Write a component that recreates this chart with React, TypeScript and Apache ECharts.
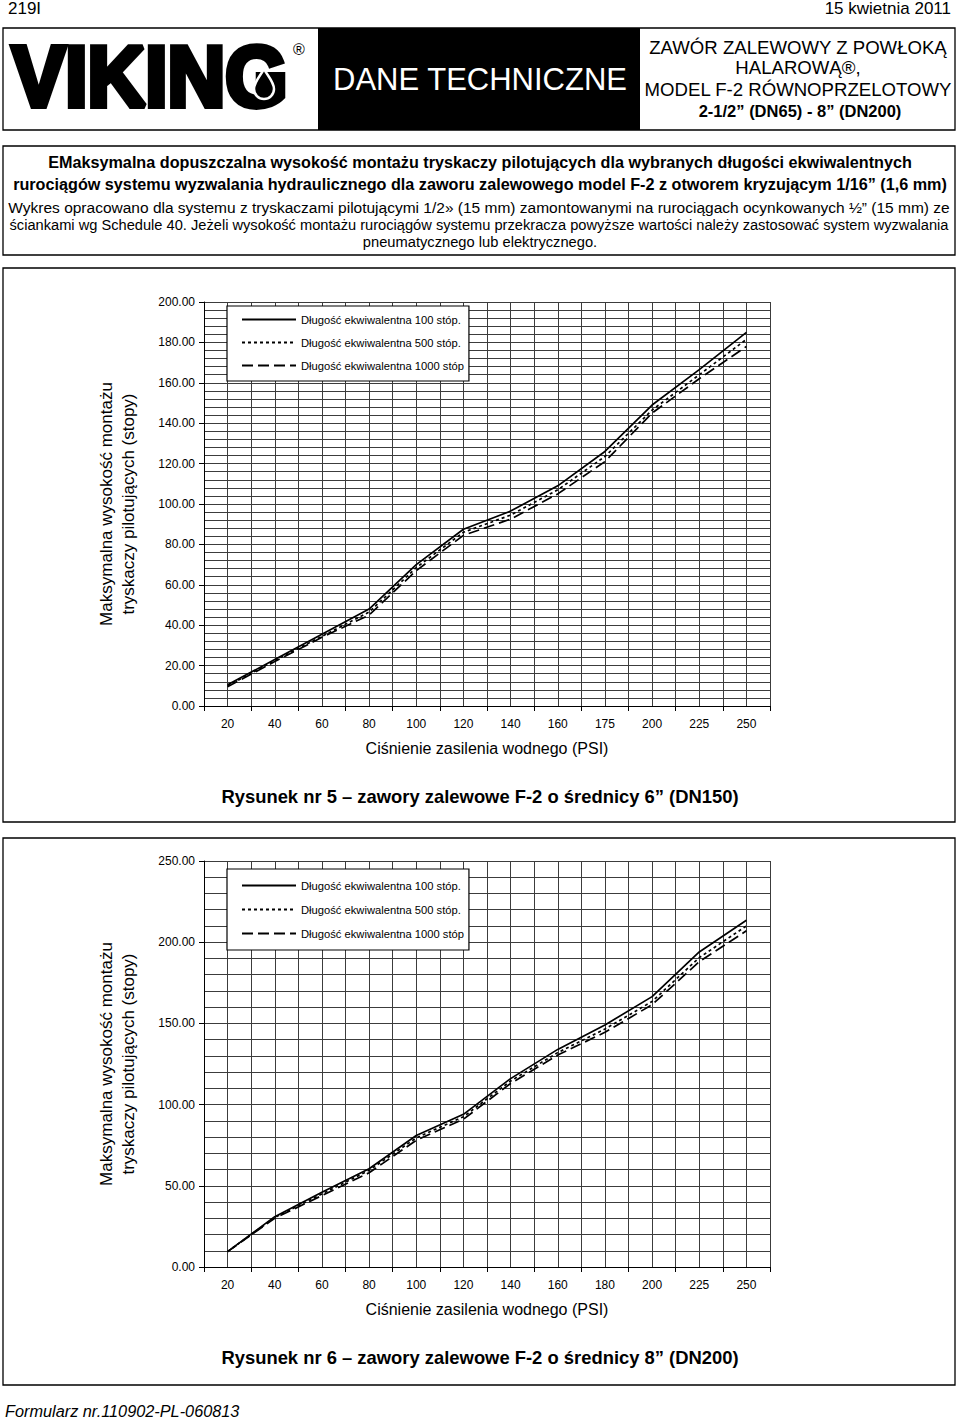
import React, { useEffect, useRef } from "react";
import * as echarts from "echarts";

// ---------- data ----------
const pressures1 = ["20", "40", "60", "80", "100", "120", "140", "160", "175", "200", "225", "250"];
const pressures2 = ["20", "40", "60", "80", "100", "120", "140", "160", "180", "200", "225", "250"];

const fig5_100 = [10.5, 23, 35.5, 48, 70, 87.5, 96.5, 109, 126, 149, 166.5, 185];
const fig5_500 = [10, 22.5, 34.5, 46.5, 68.5, 86, 94.5, 107, 123.5, 146.5, 164, 181.5];
const fig5_1000 = [9.5, 22, 34, 45, 67, 84.5, 92.5, 105, 121, 145, 162, 178];

const fig6_100 = [9.5, 31, 46, 60.5, 81, 94, 116, 134, 149, 166.5, 194, 213.5];
const fig6_500 = [9.5, 30.5, 45, 59.5, 79.5, 92.5, 114.5, 132, 146.5, 163.5, 190.5, 210];
const fig6_1000 = [9.5, 30, 44, 58, 78, 91, 113, 130.5, 144.5, 161.5, 188, 207];

const seriesNames = [
  "Długość ekwiwalentna 100 stóp.",
  "Długość ekwiwalentna 500 stóp.",
  "Długość ekwiwalentna 1000 stóp",
];

const FONT = "'Liberation Sans', Arial, Helvetica, sans-serif";

echarts.graphic.registerShape(
  "drop",
  echarts.graphic.extendPath(
    "M0,-15 C3,-9 10,-2 10,5 A10,10 0 0 1 -10,5 C-10,-2 -3,-9 0,-15 Z",
    {}
  )
);

function txt(x: number, y: number, text: string, size: number, opts: any = {}) {
  const align = opts.align || "left";
  const valign = opts.valign || "middle";
  return {
    type: "text",
    x,
    y,
    rotation: opts.rotation || 0,
    scaleX: opts.scaleX || 1,
    scaleY: opts.scaleY || 1,
    z: opts.z || 10,
    style: {
      text,
      fill: opts.fill || "#000",
      stroke: opts.stroke,
      lineWidth: opts.lineWidth,
      fontSize: size,
      fontFamily: opts.family || FONT,
      fontWeight: opts.weight || "normal",
      fontStyle: opts.fstyle || "normal",
      lineHeight: opts.lineHeight,
      align,
      verticalAlign: valign,
      textAlign: align,
      textVerticalAlign: valign,
    },
  };
}

function box(x: number, y: number, w: number, h: number, fill = "none", lw = 1.3) {
  return {
    type: "rect",
    shape: { x, y, width: w, height: h },
    z: 1,
    style: { fill, stroke: "#000", lineWidth: lw },
  };
}

const lineStyles = [
  { color: "#000", width: 1.7, type: "solid" },
  { color: "#000", width: 1.7, type: [3, 3] },
  { color: "#000", width: 1.7, type: [11, 5] },
];

const GRID_COLOR = "#3c3c3c";

export default function App() {
  const ref = useRef<HTMLDivElement>(null);

  useEffect(() => {
    if (!ref.current) return;
    const chart = echarts.init(ref.current, null, { renderer: "svg" });

    const grids = [
      { left: 204, top: 302, width: 566, height: 404 },
      { left: 204, top: 861, width: 566, height: 406 },
    ];

    const catAxis = (gridIndex: number, data: string[]) => ({
      type: "category",
      gridIndex,
      data,
      boundaryGap: true,
      axisLine: { show: true, lineStyle: { color: "#000", width: 1 } },
      axisTick: { show: true, length: 5, lineStyle: { color: "#000" } },
      axisLabel: { color: "#000", fontSize: 12, margin: 12, fontFamily: FONT },
      splitLine: { show: false },
      name: "Ciśnienie zasilenia wodnego (PSI)",
      nameLocation: "middle",
      nameGap: 34,
      nameTextStyle: { color: "#000", fontSize: 16, fontFamily: FONT },
      z: 5,
    });
    const vGrid = (gridIndex: number) => ({
      type: "value",
      gridIndex,
      min: 0,
      max: 24,
      interval: 1,
      axisLine: { show: false },
      axisTick: { show: false },
      axisLabel: { show: false },
      splitLine: { show: true, lineStyle: { color: GRID_COLOR, width: 1 } },
    });
    const yMain = (gridIndex: number, max: number, interval: number) => ({
      type: "value",
      gridIndex,
      min: 0,
      max,
      interval,
      axisLine: { show: true, lineStyle: { color: "#000", width: 1 } },
      axisTick: { show: true, length: 5, lineStyle: { color: "#000" } },
      axisLabel: {
        color: "#000",
        fontSize: 12,
        margin: 9,
        fontFamily: FONT,
        formatter: (v: number) => v.toFixed(2),
      },
      splitLine: { show: false },
      z: 5,
    });
    const hGrid = (gridIndex: number, max: number, interval: number) => ({
      type: "value",
      gridIndex,
      position: "right",
      min: 0,
      max,
      interval,
      axisLine: { show: false },
      axisTick: { show: false },
      axisLabel: { show: false },
      splitLine: { show: true, lineStyle: { color: GRID_COLOR, width: 1 } },
    });

    const mkSeries = (data: number[], idx: number, xi: number, yi: number) => ({
      type: "line",
      name: seriesNames[idx],
      xAxisIndex: xi,
      yAxisIndex: yi,
      data,
      symbol: "none",
      showSymbol: false,
      lineStyle: lineStyles[idx],
      itemStyle: { color: "#000" },
      z: 4,
    });

    const legend = (top: number, gap: number, pad: number[]) => ({
      show: true,
      left: 227,
      top,
      orient: "vertical",
      data: seriesNames,
      itemWidth: 54,
      itemHeight: 12,
      itemGap: gap,
      padding: pad,
      borderColor: "#000",
      borderWidth: 1.2,
      backgroundColor: "#fff",
      selectedMode: false,
      itemStyle: { color: "rgba(0,0,0,0)", borderColor: "rgba(0,0,0,0)", borderWidth: 0 },
      textStyle: { color: "#000", fontSize: 11.2, fontFamily: FONT },
      z: 8,
    });

    const graphics: any[] = [
      // top line
      txt(8, 8, "219I", 17),
      txt(951, 8, "15 kwietnia 2011", 17, { align: "right" }),
      // header
      box(3, 28, 952, 102),
      { type: "rect", shape: { x: 318, y: 28, width: 322, height: 102 }, z: 2, style: { fill: "#000" } },
      txt(12, 76, "VIKING", 86, {
        weight: "bold",
        stroke: "#000",
        lineWidth: 6,
        scaleX: 0.93,
        scaleY: 1.0,
      }),
      {
        type: "drop",
        x: 264,
        y: 84,
        z: 12,
        style: { fill: "#000", stroke: "#fff", lineWidth: 2.5 },
      },
      txt(293, 49, "®", 16),
      txt(480, 79, "DANE TECHNICZNE", 31, { align: "center", fill: "#fff", z: 11 }),
      txt(798, 47, "ZAWÓR ZALEWOWY Z POWŁOKĄ", 18.6, { align: "center" }),
      txt(798, 67, "HALAROWĄ®,", 18.6, { align: "center" }),
      txt(798, 89, "MODEL F-2 RÓWNOPRZELOTOWY", 18.6, { align: "center" }),
      txt(800, 111, "2-1/2” (DN65) - 8” (DN200)", 16.5, { align: "center", weight: "bold" }),
      // description box
      box(3, 146, 952, 109),
      txt(480, 162, "EMaksymalna dopuszczalna wysokość montażu tryskaczy pilotujących dla wybranych długości ekwiwalentnych", 16.2, { align: "center", weight: "bold" }),
      txt(480, 184, "rurociągów systemu wyzwalania hydraulicznego dla zaworu zalewowego model F-2 z otworem kryzującym 1/16” (1,6 mm)", 16.2, { align: "center", weight: "bold" }),
      txt(479, 207, "Wykres opracowano dla systemu z tryskaczami pilotującymi 1/2» (15 mm) zamontowanymi na rurociągach ocynkowanych ½” (15 mm) ze", 15.5, { align: "center" }),
      txt(479, 225, "ściankami wg Schedule 40. Jeżeli wysokość montażu rurociągów systemu przekracza powyższe wartości należy zastosować system wyzwalania", 14.65, { align: "center" }),
      txt(480, 242, "pneumatycznego lub elektrycznego.", 14.7, { align: "center" }),
      // chart 1 frame
      box(3, 268, 952, 554),
      txt(117, 504, "Maksymalna wysokość montażu\ntryskaczy pilotujących (stopy)", 17, {
        align: "center",
        rotation: Math.PI / 2,
        lineHeight: 22,
      }),
      txt(480, 796, "Rysunek nr 5 – zawory zalewowe F-2 o średnicy 6” (DN150)", 18.4, { align: "center", weight: "bold" }),
      // chart 2 frame
      box(3, 838, 952, 547),
      txt(117, 1064, "Maksymalna wysokość montażu\ntryskaczy pilotujących (stopy)", 17, {
        align: "center",
        rotation: Math.PI / 2,
        lineHeight: 22,
      }),
      txt(480, 1357, "Rysunek nr 6 – zawory zalewowe F-2 o średnicy 8” (DN200)", 18.4, { align: "center", weight: "bold" }),
      // footer
      txt(5, 1411, "Formularz nr.110902-PL-060813", 16.3, { fstyle: "italic" }),
    ];

    chart.setOption({
      animation: false,
      backgroundColor: "#fff",
      textStyle: { fontFamily: FONT },
      grid: grids,
      xAxis: [catAxis(0, pressures1), vGrid(0), catAxis(1, pressures2), vGrid(1)],
      yAxis: [yMain(0, 200, 20), hGrid(0, 200, 4), yMain(1, 250, 50), hGrid(1, 250, 10)],
      legend: [legend(306, 12, [8, 5, 10, 14]), legend(869, 13, [11, 5, 11, 14])],
      series: [
        mkSeries(fig5_100, 0, 0, 0),
        mkSeries(fig5_500, 1, 0, 0),
        mkSeries(fig5_1000, 2, 0, 0),
        mkSeries(fig6_100, 0, 2, 2),
        mkSeries(fig6_500, 1, 2, 2),
        mkSeries(fig6_1000, 2, 2, 2),
      ],
      graphic: graphics,
    });

    return () => chart.dispose();
  }, []);

  return (
    <div
      ref={ref}
      style={{ position: "absolute", left: 0, top: 0, width: 960, height: 1421, background: "#fff" }}
    />
  );
}
